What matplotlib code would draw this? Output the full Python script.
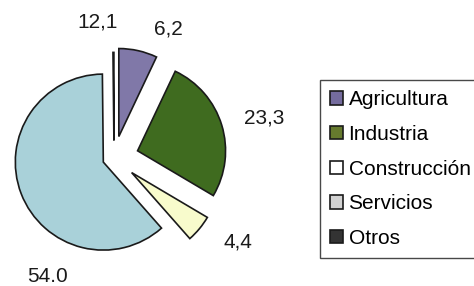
import matplotlib
matplotlib.use("Agg")
import matplotlib.pyplot as plt
from matplotlib.patches import Patch

plt.rcParams['font.family'] = ['Liberation Sans', 'DejaVu Sans']

categories = ["Agricultura", "Industria", "Construcción", "Servicios", "Otros"]
# printed labels
label_text = ["6,2", "23,3", "4,4", "54.0", "12,1"]
# slice sizes as drawn in the picture (Otros is drawn as a near zero-width sliver)
drawn_values = [6.2, 23.3, 4.4, 54.0, 0.15]
wedge_colors = ["#8078a8", "#3f6b1f", "#f8fbcc", "#a9d1d9", "#ffffff"]
legend_colors = ["#756c9e", "#667a2e", "#ffffff", "#d2d2d2", "#333333"]
explode_frac = [0.25, 0.28, 0.26, 0.13, 0.2]

W, H = 474, 286
fig = plt.figure(figsize=(W / 100, H / 100), dpi=100)
ax = fig.add_axes([0, 0, 1, 1])

cx, cy, r = 114, H - 158, 88
ax.pie(drawn_values, colors=wedge_colors, explode=[e * r for e in explode_frac],
       startangle=90, counterclock=False, center=(cx, cy), radius=r, frame=True,
       wedgeprops=dict(edgecolor='#1a1a1a', linewidth=1.2))
ax.set_xlim(0, W)
ax.set_ylim(0, H)
ax.set_aspect('equal')
ax.axis('off')

label_pos = [(168, 29), (264, 118), (238, 242), (48, 277), (98, 22)]
for txt, (x, y) in zip(label_text, label_pos):
    ax.text(x, H - y, txt, ha='center', va='center', fontsize=15, color='#1a1a1a')

handles = [Patch(facecolor=c, edgecolor='#1a1a1a', linewidth=1.2) for c in legend_colors]
leg = ax.legend(handles, categories, loc='upper left',
                bbox_to_anchor=(320 / W, 1 - 80 / H), bbox_transform=fig.transFigure,
                fontsize=15, frameon=True, fancybox=False, edgecolor='#1a1a1a',
                handlelength=0.62, handleheight=0.62, handletextpad=0.25,
                labelspacing=0.75, borderpad=0.5, borderaxespad=0)
leg.get_frame().set_linewidth(1.0)

fig.savefig("out.png", dpi=100, facecolor='white')
